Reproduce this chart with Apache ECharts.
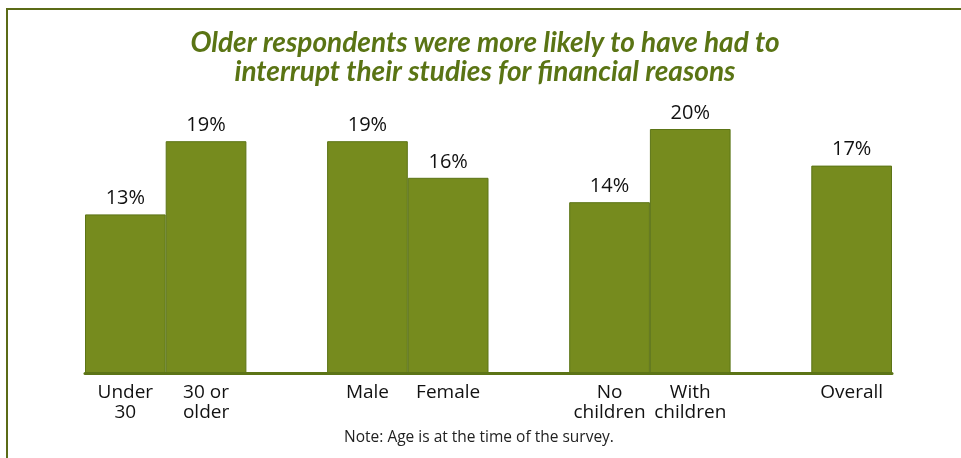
<!DOCTYPE html>
<html>
<head>
<meta charset="utf-8">
<script src="https://cdn.jsdelivr.net/npm/echarts@6/dist/echarts.min.js"></script>
<style>
  html, body { margin: 0; padding: 0; background: #fff; }
  #chart { width: 961px; height: 458px; }
</style>
</head>
<body>
<div id="chart"></div>
<script>
// Share of respondents who interrupted their studies for financial reasons (%)
// Empty strings / '-' mark the spacer slots between groups.
const categories = ['Under\n30', '30 or\nolder', '', 'Male', 'Female', '', 'No\nchildren', 'With\nchildren', '', 'Overall'];
const values = [13, 19, '-', 19, 16, '-', 14, 20, '-', 17];

const titleLines = ['Older respondents were more likely to have had to', 'interrupt their studies for financial reasons'];
const noteText = 'Note: Age is at the time of the survey.';

const olive = '#768b1e';
const oliveDark = '#5c7416';
const titleColor = '#5a7414';
const sansFont = '"Open Sans", "Noto Sans", sans-serif';
const titleFont = 'italic bold 28px Lato, "Open Sans", sans-serif';

const chart = echarts.init(document.getElementById('chart'));

chart.setOption({
  animation: false,
  backgroundColor: '#fff',
  grid: { left: 85, right: 69, top: 68, bottom: 85 },
  xAxis: {
    type: 'category',
    data: categories,
    axisTick: { show: false },
    axisLine: { lineStyle: { color: oliveDark, width: 3 } },
    axisLabel: {
      interval: 0,
      margin: 10,
      color: '#111',
      fontFamily: sansFont,
      fontSize: 19,
      lineHeight: 20
    }
  },
  yAxis: {
    type: 'value',
    min: 0,
    max: 25,
    show: false,
    splitLine: { show: false }
  },
  series: [{
    type: 'bar',
    data: values,
    barCategoryGap: 0,
    itemStyle: { color: olive, borderColor: oliveDark, borderWidth: 1 },
    label: {
      show: true,
      position: 'top',
      distance: 6,
      formatter: p => p.value + '%',
      color: '#111',
      fontFamily: sansFont,
      fontSize: 20
    }
  }],
  graphic: [
    {
      type: 'rect',
      shape: { x: 7, y: 9, width: 1000, height: 500 },
      style: { fill: 'none', stroke: '#5b6b17', lineWidth: 2 },
      silent: true
    },
    {
      type: 'text',
      x: 485,
      y: 43,
      style: {
        text: titleLines[0],
        fill: titleColor,
        font: titleFont,
        textAlign: 'center',
        textVerticalAlign: 'middle'
      }
    },
    {
      type: 'text',
      x: 485,
      y: 72,
      style: {
        text: titleLines[1],
        fill: titleColor,
        font: titleFont,
        textAlign: 'center',
        textVerticalAlign: 'middle'
      }
    },
    {
      type: 'text',
      x: 479,
      y: 438,
      style: {
        text: noteText,
        fill: '#222',
        font: '15.5px "Open Sans", "Noto Sans", sans-serif',
        textAlign: 'center',
        textVerticalAlign: 'middle'
      }
    }
  ]
});
</script>
</body>
</html>
